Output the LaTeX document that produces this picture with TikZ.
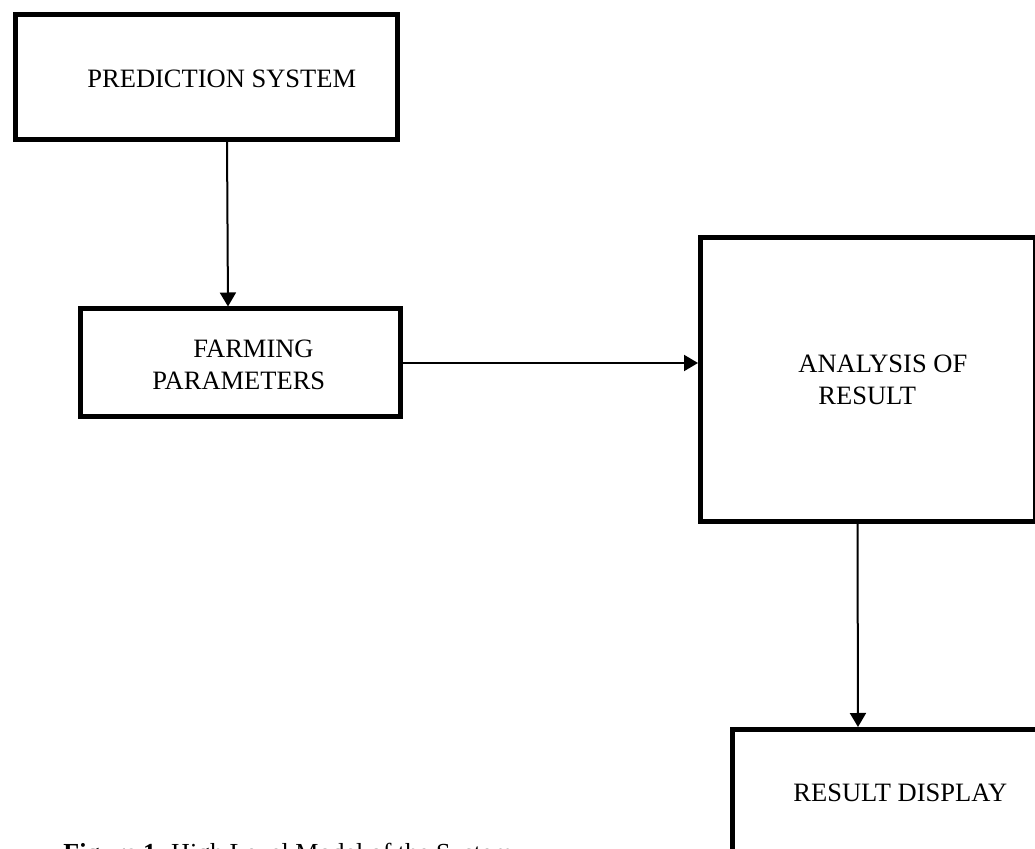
\documentclass[tikz,border=0pt]{standalone}
\usepackage{fontspec}
\setmainfont{Liberation Serif}
\usetikzlibrary{arrows.meta,fit}
\begin{document}
\begin{tikzpicture}[x=0.5pt,y=-0.5pt,
  box/.style={draw, line width=2.5pt, inner sep=0pt, outer sep=0pt},
  lbl/.style={anchor=base west, inner sep=0pt, font=\fontsize{13.25}{16}\selectfont},
  arr/.style={line width=1pt, -{Triangle[length=7pt,width=8pt]}, shorten >=1.25pt}]
\useasboundingbox (0,0) rectangle (1035,849);
\clip (0,0) rectangle (1035,849);
% boxes
\node[box, fit={(15.5,14.5) (397,139.5)}] (pred) {};
\node[box, fit={(80.5,309) (400,417)}] (farm) {};
\node[box, fit={(700.5,237.5) (1035.5,522)}] (anal) {};
\node[box, fit={(732,729.5) (1080,900)}] (res) {};
% texts
\node[lbl] (tp) at (87,88) {PREDICTION SYSTEM};
\node[lbl] (tf1) at (193,358) {FARMING};
\node[lbl] (tf2) at (152,390) {PARAMETERS};
\node[lbl] (ta1) at (798,373) {ANALYSIS OF};
\node[lbl] (ta2) at (818,405) {RESULT};
\node[lbl] (tr) at (793,802) {RESULT DISPLAY};
\node[lbl, font=\fontsize{13}{16}\selectfont] (cap) at (63,862) {\textbf{Figure 1}. High Level Model of the System};
% connectors
\draw[arr] ([xshift=105.75pt]pred.south west) -- ([xshift=73.75pt]farm.north west);
\draw[arr] (farm.east) -- (farm.east -| anal.west);
\draw[arr] ([xshift=78.5pt]anal.south west) -- ([xshift=63pt]res.north west);
\end{tikzpicture}
\end{document}
